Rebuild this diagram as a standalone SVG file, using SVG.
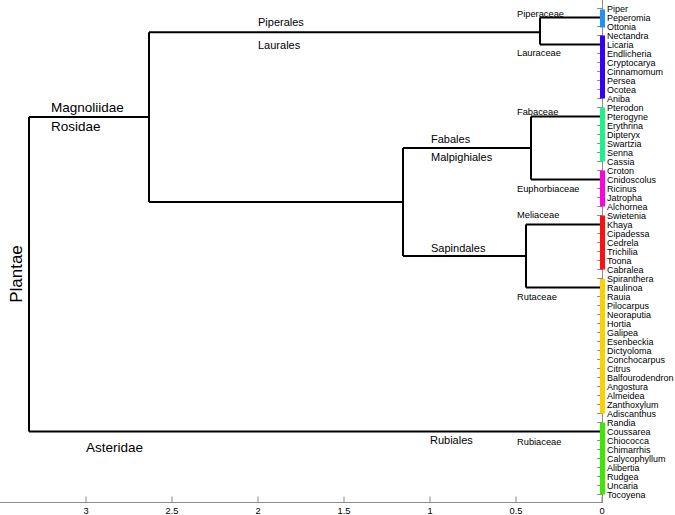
<svg xmlns="http://www.w3.org/2000/svg" width="675" height="515" viewBox="0 0 675 515">
<style>
text{font-family:"Liberation Sans",Arial,Helvetica,sans-serif;fill:#000}
.g{font-size:9px}
.f{font-size:9.3px}
.o{font-size:11px}
.c{font-size:13.5px}
.ax{font-size:9.3px;text-anchor:middle}
.tree{fill:none;stroke:#000;stroke-width:2}
.gray{fill:none;stroke:#8c8c8c;stroke-width:1}
</style>
<rect width="675" height="515" fill="#fff"/>
<g id="axis">
<path class="gray" d="M0 502.5H603M86 502.5v-6M172 502.5v-6M258 502.5v-6M344 502.5v-6M430 502.5v-6M516 502.5v-6M602 502.5v-6"/>
<text class="ax" x="86" y="514">3</text>
<text class="ax" x="172" y="514">2.5</text>
<text class="ax" x="258" y="514">2</text>
<text class="ax" x="344" y="514">1.5</text>
<text class="ax" x="430" y="514">1</text>
<text class="ax" x="516" y="514">0.5</text>
<text class="ax" x="602" y="514">0</text>
</g>
<g id="leaf-axis">
<path class="gray" d="M602.5 0V502M597 8.5h5M597 17.5h5M597 26.5h5M597 35.5h5M597 44.5h5M597 53.5h5M597 62.5h5M597 71.5h5M597 80.5h5M597 89.5h5M597 98.5h5M597 107.5h5M597 116.5h5M597 125.5h5M597 134.5h5M597 143.5h5M597 152.5h5M597 161.5h5M597 170.5h5M597 179.5h5M597 188.5h5M597 197.5h5M597 206.5h5M597 215.5h5M597 224.5h5M597 233.5h5M597 242.5h5M597 251.5h5M597 260.5h5M597 269.5h5M597 278.5h5M597 287.5h5M597 296.5h5M597 305.5h5M597 314.5h5M597 323.5h5M597 332.5h5M597 341.5h5M597 350.5h5M597 359.5h5M597 368.5h5M597 377.5h5M597 386.5h5M597 395.5h5M597 404.5h5M597 413.5h5M597 422.5h5M597 431.5h5M597 440.5h5M597 449.5h5M597 458.5h5M597 467.5h5M597 476.5h5M597 485.5h5M597 494.5h5"/>
</g>
<g id="connectors">
<path class="tree" d="M29 117V431.5M29 117H149M29 431.5H601M149 32.2V202M149 32.2H540M149 202H403M540 17.5V44.5M540 17.5H601M540 44.5H601M403 148V256M403 148H531M403 256H526M531 116.5V179.5M531 116.5H601M531 179.5H601M526 224.5V287.5M526 224.5H601M526 287.5H601"/>
</g>
<g id="Plantae"><text x="0" y="0" font-size="17" text-anchor="middle" transform="translate(22 274) rotate(-90)">Plantae</text></g>
<g id="Magnoliidae"><text class="c" x="51" y="112">Magnoliidae</text></g>
<g id="Rosidae"><text class="c" x="51" y="131">Rosidae</text></g>
<g id="Asteridae"><text class="c" x="86" y="452">Asteridae</text></g>
<g id="Piperales"><text class="o" x="258" y="26">Piperales</text></g>
<g id="Laurales"><text class="o" x="258" y="49">Laurales</text></g>
<g id="Fabales"><text class="o" x="431" y="143">Fabales</text></g>
<g id="Malpighiales"><text class="o" x="431" y="161">Malpighiales</text></g>
<g id="Sapindales"><text class="o" x="431" y="252">Sapindales</text></g>
<g id="Rubiales"><text class="o" x="430" y="444">Rubiales</text></g>
<g id="Piperaceae">
<text class="f" x="517" y="17.3">Piperaceae</text>
<rect x="600" y="9.5" width="5" height="18" fill="#1e90ff"/>
<text class="g" x="607" y="11.7">Piper</text>
<text class="g" x="607" y="20.7">Peperomia</text>
<text class="g" x="607" y="29.7">Ottonia</text>
</g>
<g id="Lauraceae">
<text class="f" x="517" y="56.3">Lauraceae</text>
<rect x="600" y="35.5" width="5" height="63" fill="#3300ff"/>
<text class="g" x="607" y="38.7">Nectandra</text>
<text class="g" x="607" y="47.7">Licaria</text>
<text class="g" x="607" y="56.7">Endlicheria</text>
<text class="g" x="607" y="65.7">Cryptocarya</text>
<text class="g" x="607" y="74.7">Cinnamomum</text>
<text class="g" x="607" y="83.7">Persea</text>
<text class="g" x="607" y="92.7">Ocotea</text>
<text class="g" x="607" y="101.7">Aniba</text>
</g>
<g id="Fabaceae">
<text class="f" x="517" y="115.3">Fabaceae</text>
<rect x="600" y="107.5" width="5" height="54" fill="#1ef08c"/>
<text class="g" x="607" y="110.7">Pterodon</text>
<text class="g" x="607" y="119.7">Pterogyne</text>
<text class="g" x="607" y="128.7">Erythrina</text>
<text class="g" x="607" y="137.7">Dipteryx</text>
<text class="g" x="607" y="146.7">Swartzia</text>
<text class="g" x="607" y="155.7">Senna</text>
<text class="g" x="607" y="164.7">Cassia</text>
</g>
<g id="Euphorbiaceae">
<text class="f" x="517" y="192.3">Euphorbiaceae</text>
<rect x="600" y="170.5" width="5" height="36" fill="#ff00e0"/>
<text class="g" x="607" y="173.7">Croton</text>
<text class="g" x="607" y="182.7">Cnidoscolus</text>
<text class="g" x="607" y="191.7">Ricinus</text>
<text class="g" x="607" y="200.7">Jatropha</text>
<text class="g" x="607" y="209.7">Alchornea</text>
</g>
<g id="Meliaceae">
<text class="f" x="517" y="218.3">Meliaceae</text>
<rect x="600" y="215.5" width="5" height="54" fill="#ff1010"/>
<text class="g" x="607" y="218.7">Swietenia</text>
<text class="g" x="607" y="227.7">Khaya</text>
<text class="g" x="607" y="236.7">Cipadessa</text>
<text class="g" x="607" y="245.7">Cedrela</text>
<text class="g" x="607" y="254.7">Trichilia</text>
<text class="g" x="607" y="263.7">Toona</text>
<text class="g" x="607" y="272.7">Cabralea</text>
</g>
<g id="Rutaceae">
<text class="f" x="517" y="300.3">Rutaceae</text>
<rect x="600" y="279" width="5" height="134.5" fill="#ffd000"/>
<text class="g" x="607" y="281.7">Spiranthera</text>
<text class="g" x="607" y="290.7">Raulinoa</text>
<text class="g" x="607" y="299.7">Rauia</text>
<text class="g" x="607" y="308.7">Pilocarpus</text>
<text class="g" x="607" y="317.7">Neoraputia</text>
<text class="g" x="607" y="326.7">Hortia</text>
<text class="g" x="607" y="335.7">Galipea</text>
<text class="g" x="607" y="344.7">Esenbeckia</text>
<text class="g" x="607" y="353.7">Dictyoloma</text>
<text class="g" x="607" y="362.7">Conchocarpus</text>
<text class="g" x="607" y="371.7">Citrus</text>
<text class="g" x="607" y="380.7">Balfourodendron</text>
<text class="g" x="607" y="389.7">Angostura</text>
<text class="g" x="607" y="398.7">Almeidea</text>
<text class="g" x="607" y="407.7">Zanthoxylum</text>
<text class="g" x="607" y="416.7">Adiscanthus</text>
</g>
<g id="Rubiaceae">
<text class="f" x="517" y="445.3">Rubiaceae</text>
<rect x="600" y="422.5" width="5" height="72" fill="#3ce800"/>
<text class="g" x="607" y="425.7">Randia</text>
<text class="g" x="607" y="434.7">Coussarea</text>
<text class="g" x="607" y="443.7">Chiococca</text>
<text class="g" x="607" y="452.7">Chimarrhis</text>
<text class="g" x="607" y="461.7">Calycophyllum</text>
<text class="g" x="607" y="470.7">Alibertia</text>
<text class="g" x="607" y="479.7">Rudgea</text>
<text class="g" x="607" y="488.7">Uncaria</text>
<text class="g" x="607" y="497.7">Tocoyena</text>
</g>
</svg>
